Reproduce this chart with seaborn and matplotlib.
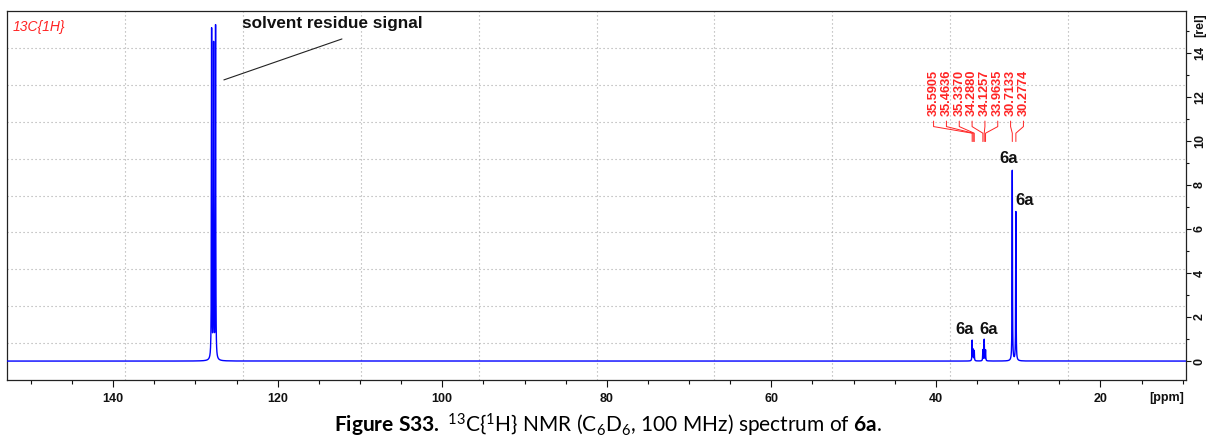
import numpy as np
import matplotlib
matplotlib.use("Agg")
import matplotlib.pyplot as plt
from matplotlib.ticker import MultipleLocator
import seaborn as sns

# --- peak list (ppm, relative intensity) ---
solvent_ppm = [128.03, 127.79, 127.55]
solvent_height = [14.95, 14.2, 15.09]

sample_ppm = [35.5905, 35.4636, 35.3370, 34.2880, 34.1257, 33.9635, 30.7133, 30.2774]
sample_height = [0.93, 0.50, 0.46, 0.50, 0.97, 0.49, 8.65, 6.77]

# assignment labels (ppm, rel)
assign_text = ["6a", "6a", "6a", "6a"]
assign_ppm = [31.21, 29.18, 36.56, 33.58]
assign_rel = [9.18, 7.28, 1.43, 1.43]

x_major = [140, 120, 100, 80, 60, 40, 20]
y_major = [0, 2, 4, 6, 8, 10, 12, 14]

sns.set_style("ticks")
plt.rcParams["font.family"] = ["Liberation Sans", "DejaVu Sans"]
plt.rcParams["mathtext.fontset"] = "custom"
plt.rcParams["mathtext.rm"] = "Lato"
plt.rcParams["mathtext.bf"] = "Lato:bold"
plt.rcParams["mathtext.it"] = "Lato:italic"

RED = "#ff2424"
BLUE = "#0000ff"

fig = plt.figure(figsize=(12.12, 4.44), dpi=100)
ax = fig.add_axes([7 / 1212, 64 / 444, 1179 / 1212, 369 / 444])

# Lorentzian line shapes built from the peak list
hwhm = 0.025
ppm = np.arange(9.6, 152.9, 0.002)
all_ppm = solvent_ppm + sample_ppm
all_h = solvent_height + sample_height
spec = np.zeros_like(ppm)
for p, h in zip(all_ppm, all_h):
    spec += h * hwhm ** 2 / ((ppm - p) ** 2 + hwhm ** 2)

sns.lineplot(x=ppm, y=spec, ax=ax, color=BLUE, lw=1.0,
             estimator=None, sort=False, zorder=3)

ax.set_xlim(152.9, 9.6)
ax.set_ylim(-0.86, 15.9)

# dotted division grid (10 x 10)
for k in range(1, 10):
    f = k / 10
    ax.plot([f, f], [0, 1], transform=ax.transAxes, color="#a8a8a8",
            lw=0.8, ls=(0, (1, 2.6)), zorder=1)
    ax.plot([0, 1], [f, f], transform=ax.transAxes, color="#a8a8a8",
            lw=0.8, ls=(0, (1, 2.6)), zorder=1)

# axes / ticks
for s in ax.spines.values():
    s.set_color("#222222")
    s.set_linewidth(0.9)
ax.set_xticks(x_major)
ax.set_xticklabels([str(v) for v in x_major])
ax.xaxis.set_minor_locator(MultipleLocator(5))
ax.yaxis.tick_right()
ax.set_yticks(y_major)
ax.set_yticklabels([str(v) for v in y_major])
ax.yaxis.set_minor_locator(MultipleLocator(1))
ax.tick_params(axis="x", which="major", length=5, width=0.8, direction="out",
               labelsize=9, pad=4, colors="#111111")
ax.tick_params(axis="x", which="minor", length=3.2, width=0.8, direction="out",
               colors="#111111")
ax.tick_params(axis="y", which="major", length=3.6, width=0.8, direction="out",
               labelsize=9, pad=2, labelrotation=90, colors="#111111",
               left=False, right=True)
ax.tick_params(axis="y", which="minor", length=2.2, width=0.8, direction="out",
               left=False, right=True, colors="#111111")
for lab in ax.get_xticklabels() + ax.get_yticklabels():
    lab.set_fontweight("bold")
for lab in ax.get_yticklabels():
    lab.set_va("center")
ax.set_xlabel("")
ax.set_ylabel("")

# axis unit labels
ax.annotate("[ppm]", xy=(1.0, 0.0), xycoords="axes fraction",
            xytext=(-2, -18), textcoords="offset pixels", ha="right",
            va="center", fontsize=9, fontweight="bold", color="#111111")
ax.annotate("[rel]", xy=(1.0, 1.0), xycoords="axes fraction",
            xytext=(14, -2), textcoords="offset pixels", ha="center",
            va="top", rotation=90, fontsize=9, fontweight="bold",
            color="#111111")

# experiment tag
ax.text(0.0048, 0.946, "13C{1H}", transform=ax.transAxes, ha="left",
        va="baseline", fontsize=10, style="italic", color=RED)

# solvent annotation
ax.plot([126.54, 112.19], [12.77, 14.63], color="#222222", lw=0.8, zorder=4)
ax.text(124.32, 15.13, "solvent residue signal", ha="left", va="baseline",
        fontsize=12.3, fontweight="bold", color="#111111")

# assignment labels
for t, xp, yp in zip(assign_text, assign_ppm, assign_rel):
    ax.text(xp, yp, t, ha="center", va="center", fontsize=12,
            fontweight="bold", color="#111111", zorder=5)

# peak picking labels with leader lines
label_center = 34.82
label_step = 1.56
for i, p in enumerate(sample_ppm):
    xl = label_center + (3.5 - i) * label_step
    ax.text(xl, 11.12, f"{p:.4f}", rotation=90, ha="center", va="bottom",
            fontsize=9.2, fontweight="bold", color=RED)
    ax.plot([xl, xl, p, p], [10.9, 10.65, 10.35, 9.97], color=RED, lw=0.7,
            zorder=4)

# caption
caption = (r"$\mathbf{Figure\ S33.}\ {}^{13}\mathrm{C}\{{}^{1}\mathrm{H}\}"
           r"\ \mathrm{NMR\ (C_{6}D_{6}{,}\ 100\ MHz)\ spectrum\ of\ }"
           r"\mathbf{6a}\mathrm{.}$")
fig.text(608 / 1212, 1 - 425 / 444, caption, ha="center", va="center",
         fontsize=15, color="#000000")

fig.savefig("out.png", dpi=100)
